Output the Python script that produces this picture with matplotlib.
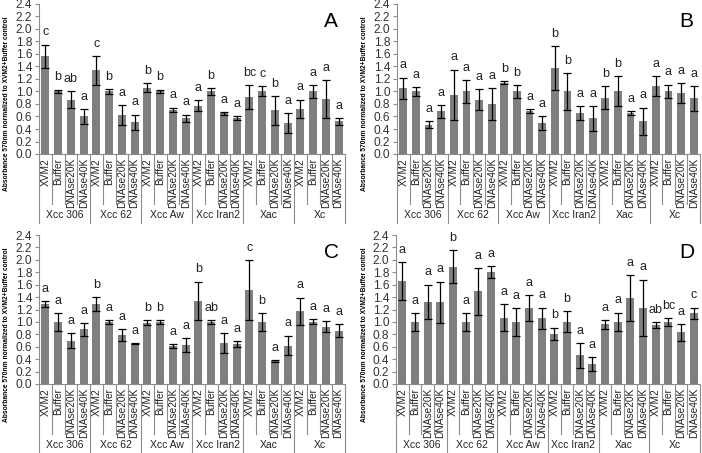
import matplotlib

matplotlib.use("Agg")
import matplotlib.pyplot as plt  # noqa: E402
import numpy as np  # noqa: E402

plt.rcParams["font.family"] = ["Liberation Sans", "DejaVu Sans"]

groups = ["Xcc 306", "Xcc 62", "Xcc Aw", "Xcc Iran2", "Xac", "Xc"]
treatments = ["XVM2", "Buffer", "DNAse20K", "DNAse40K"]

a_means = [1.56, 1.00, 0.87, 0.60, 1.34, 1.00, 0.62, 0.51, 1.06, 1.00, 0.71, 0.57,
           0.77, 1.00, 0.65, 0.58, 0.91, 1.00, 0.70, 0.50, 0.72, 1.00, 0.88, 0.52]
a_errs = [0.19, 0.03, 0.13, 0.12, 0.23, 0.04, 0.16, 0.12, 0.07, 0.03, 0.03, 0.06,
          0.09, 0.05, 0.02, 0.03, 0.19, 0.08, 0.23, 0.16, 0.15, 0.10, 0.30, 0.05]
a_letters = ["c", "b", "ab", "a", "c", "b", "a", "a", "b", "b", "a", "a",
             "a", "b", "a", "a", "bc", "c", "b", "a", "a", "a", "a", "a"]

b_means = [1.05, 1.00, 0.47, 0.68, 0.95, 1.00, 0.87, 0.80, 1.14, 1.00, 0.69, 0.50,
           1.37, 1.00, 0.65, 0.57, 0.90, 1.00, 0.66, 0.52, 1.09, 1.00, 0.97, 0.89]
b_errs = [0.17, 0.07, 0.06, 0.10, 0.40, 0.18, 0.17, 0.25, 0.02, 0.10, 0.03, 0.11,
          0.35, 0.30, 0.11, 0.20, 0.18, 0.24, 0.03, 0.22, 0.16, 0.11, 0.16, 0.20]
b_letters = ["a", "a", "a", "a", "a", "a", "a", "a", "b", "b", "a", "a",
             "b", "b", "a", "a", "b", "b", "a", "a", "a", "a", "a", "a"]

c_means = [1.29, 1.00, 0.70, 0.88, 1.29, 1.00, 0.79, 0.65, 0.99, 1.00, 0.61, 0.63,
           1.34, 1.00, 0.66, 0.64, 1.51, 1.00, 0.37, 0.62, 1.17, 1.00, 0.92, 0.86]
c_errs = [0.05, 0.14, 0.12, 0.10, 0.11, 0.03, 0.09, 0.01, 0.04, 0.03, 0.03, 0.11,
          0.31, 0.03, 0.16, 0.05, 0.48, 0.14, 0.01, 0.16, 0.22, 0.04, 0.09, 0.11]
c_letters = ["a", "a", "a", "a", "b", "a", "a", "a", "b", "b", "a", "a",
             "b", "ab", "a", "a", "c", "b", "a", "a", "a", "a", "a", "a"]

d_means = [1.66, 1.00, 1.32, 1.32, 1.89, 1.00, 1.49, 1.80, 1.07, 1.00, 1.22, 1.06,
           0.81, 1.00, 0.46, 0.32, 0.96, 1.00, 1.38, 1.23, 0.95, 1.00, 0.83, 1.14]
d_errs = [0.30, 0.14, 0.28, 0.33, 0.27, 0.14, 0.38, 0.10, 0.22, 0.22, 0.21, 0.17,
          0.10, 0.17, 0.20, 0.11, 0.07, 0.15, 0.37, 0.45, 0.05, 0.06, 0.14, 0.09]
d_letters = ["a", "a", "a", "a", "b", "a", "a", "a", "a", "a", "a", "a",
             "b", "b", "a", "a", "a", "a", "a", "a", "ab", "bc", "a", "c"]

panels = [
    ("A", a_means, a_errs, a_letters),
    ("B", b_means, b_errs, b_letters),
    ("C", c_means, c_errs, c_letters),
    ("D", d_means, d_errs, d_letters),
]

# axes boxes in pixels: left, right, top (2.4), bottom (0.0)
boxes = [(39, 345, 4, 154), (397, 700, 4, 154), (39, 345, 235, 384), (396, 700, 235, 384)]
W, H = 702, 453

BAR = "#7f7f7f"
LINE = "#8c8c8c"


def draw_panel(ax, tag, means, errs, letters):
    n = len(means)
    x = np.arange(n)
    ax.bar(x, means, width=0.62, color=BAR, zorder=2)
    ax.errorbar(x, means, yerr=errs, fmt="none", ecolor="black", elinewidth=0.9,
                capsize=2.6, capthick=0.9, zorder=3)
    for xi, m, e, lab in zip(x, means, errs, letters):
        ax.annotate(lab, (xi, m + e), xytext=(0, 4.5), textcoords="offset points",
                    ha="center", va="bottom", fontsize=9, color="#222")

    ax.set_xlim(-0.5, n - 0.5)
    ax.set_ylim(0, 2.4)
    ax.set_yticks(np.arange(0, 2.41, 0.2))
    ax.set_yticklabels([f"{v:.1f}" for v in np.arange(0, 2.41, 0.2)], fontsize=8.6,
                       color="#333")
    ax.tick_params(axis="y", length=3, width=0.8, color=LINE, pad=2)
    ax.set_xticks([])
    for s in ("top", "right"):
        ax.spines[s].set_visible(False)
    for s in ("left", "bottom"):
        ax.spines[s].set_color(LINE)
        ax.spines[s].set_linewidth(0.8)

    tr = ax.get_xaxis_transform()
    h_px = ax.bbox.height
    cat_depth = -50 / h_px
    grp_depth = -69 / h_px
    grp_label = -61 / h_px
    for k in range(n + 1):
        depth = grp_depth if k % len(treatments) == 0 else cat_depth
        ax.plot([k - 0.5, k - 0.5], [0, depth], transform=tr, color=LINE,
                lw=0.8, clip_on=False)
    for xi in x:
        ax.text(xi, -4 / h_px, treatments[xi % len(treatments)], transform=tr,
                rotation=90, ha="center", va="top", fontsize=7.3, color="#222")
    for g, name in enumerate(groups):
        xc = g * len(treatments) + (len(treatments) - 1) / 2
        ax.text(xc, grp_label, name, transform=tr, ha="center", va="center",
                fontsize=7.5, color="#222")

    ax.text(0.955, 0.885, tag, transform=ax.transAxes, ha="center", va="center",
            fontsize=15)


def main() -> None:
    fig = plt.figure(figsize=(W / 100, H / 100), dpi=100)
    fig.patch.set_facecolor("white")
    for (tag, means, errs, letters), (l, r, t, b) in zip(panels, boxes):
        ax = fig.add_axes([l / W, (H - b) / H, (r - l) / W, (b - t) / H])
        draw_panel(ax, tag, means, errs, letters)
        fig.text((l - 32) / W, (H - (t + b + 50) / 2) / H,
                 "Absorbance 570nm normalized to XVM2+Buffer control",
                 rotation=90, ha="center", va="center", fontsize=4.8,
                 fontweight="bold")
    fig.savefig("out.png", dpi=100)
    plt.close(fig)


if __name__ == "__main__":
    main()
